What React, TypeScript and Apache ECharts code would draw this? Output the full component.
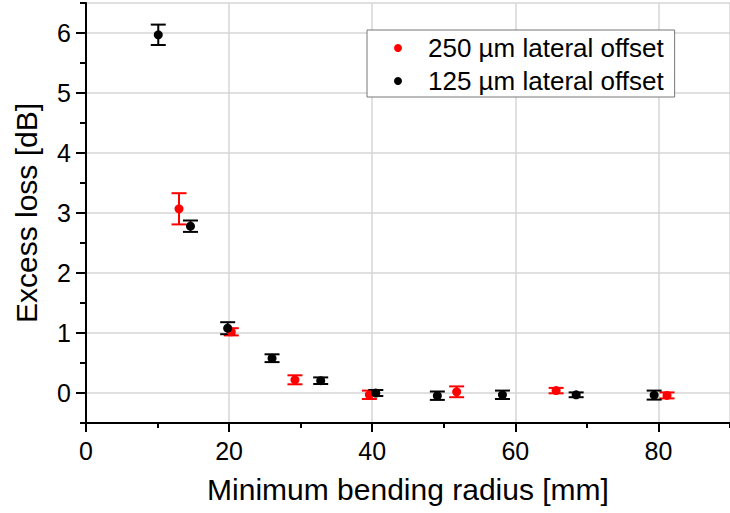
import React, { useEffect, useRef } from "react";
import * as echarts from "echarts";

// 250 µm lateral offset (red)
const radius250 = [13.0, 20.3, 29.2, 39.6, 51.8, 65.7, 81.2];
const loss250 = [3.07, 1.02, 0.22, -0.03, 0.02, 0.04, -0.04];
const err250 = [0.26, 0.06, 0.075, 0.07, 0.09, 0.045, 0.05];

// 125 µm lateral offset (black)
const radius125 = [10.1, 14.6, 19.8, 26.0, 32.8, 40.5, 49.1, 58.2, 68.5, 79.4];
const loss125 = [5.97, 2.78, 1.08, 0.58, 0.205, 0.0, -0.045, -0.03, -0.03, -0.035];
const err125 = [0.17, 0.095, 0.1, 0.065, 0.055, 0.05, 0.07, 0.07, 0.04, 0.075];

const seriesNames = ["250 µm lateral offset", "125 µm lateral offset"];
const xTitle = "Minimum bending radius [mm]";
const yTitle = "Excess loss [dB]";

const FONT = "'Liberation Sans', Arial, sans-serif";

function errorSeries(xs: number[], ys: number[], es: number[], color: string) {
  const data = xs.map((x, i) => [x, ys[i] - es[i], ys[i] + es[i]]);
  return {
    type: "custom",
    xAxisIndex: 0,
    yAxisIndex: 0,
    silent: true,
    data,
    encode: { x: 0, y: [1, 2] },
    renderItem: (params: any, api: any) => {
      const lo = api.coord([api.value(0), api.value(1)]);
      const hi = api.coord([api.value(0), api.value(2)]);
      const hw = 7.5;
      const style = { stroke: color, lineWidth: 2 };
      return {
        type: "group",
        children: [
          { type: "line", shape: { x1: hi[0], y1: hi[1], x2: lo[0], y2: lo[1] }, style },
          { type: "line", shape: { x1: hi[0] - hw, y1: hi[1], x2: hi[0] + hw, y2: hi[1] }, style },
          { type: "line", shape: { x1: lo[0] - hw, y1: lo[1], x2: lo[0] + hw, y2: lo[1] }, style },
        ],
      };
    },
  };
}

function dotSeries(name: string, xs: number[], ys: number[], color: string) {
  return {
    type: "scatter",
    name,
    xAxisIndex: 0,
    yAxisIndex: 0,
    symbol: "circle",
    symbolSize: 9,
    itemStyle: { color, opacity: 1 },
    data: xs.map((x, i) => [x, ys[i]]),
  };
}

export default function App() {
  const ref = useRef<HTMLDivElement>(null);
  useEffect(() => {
    if (!ref.current) return;
    const chart = echarts.init(ref.current, undefined, { renderer: "svg" });
    const axisLineStyle = { color: "#000", width: 2 };
    const gridLine = { show: true, lineStyle: { color: "#d6d6d6", width: 1.5 } };
    chart.setOption({
      animation: false,
      backgroundColor: "#fff",
      grid: { left: 86, top: 3, bottom: 90, right: -7.2, containLabel: false },
      legend: {
        data: seriesNames,
        orient: "vertical",
        left: 367,
        top: 30,
        icon: "circle",
        itemWidth: 50,
        itemHeight: 8,
        itemGap: 3,
        padding: [3, 11, 1, 27],
        backgroundColor: "#fff",
        borderColor: "#777",
        borderWidth: 1,
        borderRadius: 0,
        itemStyle: { opacity: 1 },
        textStyle: { fontSize: 26, lineHeight: 30, color: "#000", fontFamily: FONT },
      },
      xAxis: [
        {
          type: "value",
          position: "bottom",
          min: 0,
          max: 90,
          interval: 20,
          name: xTitle,
          nameLocation: "middle",
          nameGap: 51,
          nameTextStyle: { fontSize: 30, color: "#000", fontFamily: FONT },
          axisLine: { show: true, onZero: false, lineStyle: axisLineStyle },
          axisTick: { show: true, inside: false, length: 9, lineStyle: axisLineStyle },
          axisLabel: { fontSize: 25, color: "#000", margin: 15, fontFamily: FONT, showMaxLabel: false },
          splitLine: gridLine,
        },
        {
          type: "value",
          position: "bottom",
          min: 0,
          max: 90,
          interval: 10,
          axisLine: { show: false, onZero: false },
          axisTick: { show: true, inside: false, length: 5, lineStyle: axisLineStyle },
          axisLabel: { show: false },
          splitLine: { show: false },
        },
      ],
      yAxis: [
        {
          type: "value",
          position: "left",
          min: -0.5,
          max: 6.5,
          splitNumber: 7,
          name: yTitle,
          nameLocation: "middle",
          nameGap: 45,
          nameTextStyle: { fontSize: 30, color: "#000", fontFamily: FONT },
          axisLine: { show: true, onZero: false, lineStyle: axisLineStyle },
          axisTick: { show: true, inside: false, length: 10, lineStyle: axisLineStyle },
          axisLabel: {
            fontSize: 25,
            color: "#000",
            margin: 15,
            fontFamily: FONT,
            showMinLabel: false,
            showMaxLabel: false,
            formatter: (v: number) => (Number.isInteger(v) ? String(v) : ""),
          },
          splitLine: gridLine,
        },
        {
          type: "value",
          position: "left",
          min: -0.5,
          max: 6.5,
          interval: 0.5,
          axisLine: { show: false, onZero: false },
          axisTick: { show: true, inside: false, length: 6, lineStyle: axisLineStyle },
          axisLabel: { show: false },
          splitLine: { show: false },
        },
      ],
      series: [
        errorSeries(radius250, loss250, err250, "#ff0000"),
        dotSeries(seriesNames[0], radius250, loss250, "#ff0000"),
        errorSeries(radius125, loss125, err125, "#000000"),
        dotSeries(seriesNames[1], radius125, loss125, "#000000"),
      ],
    });
    return () => chart.dispose();
  }, []);
  return (
    <div
      ref={ref}
      style={{ position: "fixed", left: 0, top: 0, width: 730, height: 513, background: "#fff" }}
    />
  );
}
